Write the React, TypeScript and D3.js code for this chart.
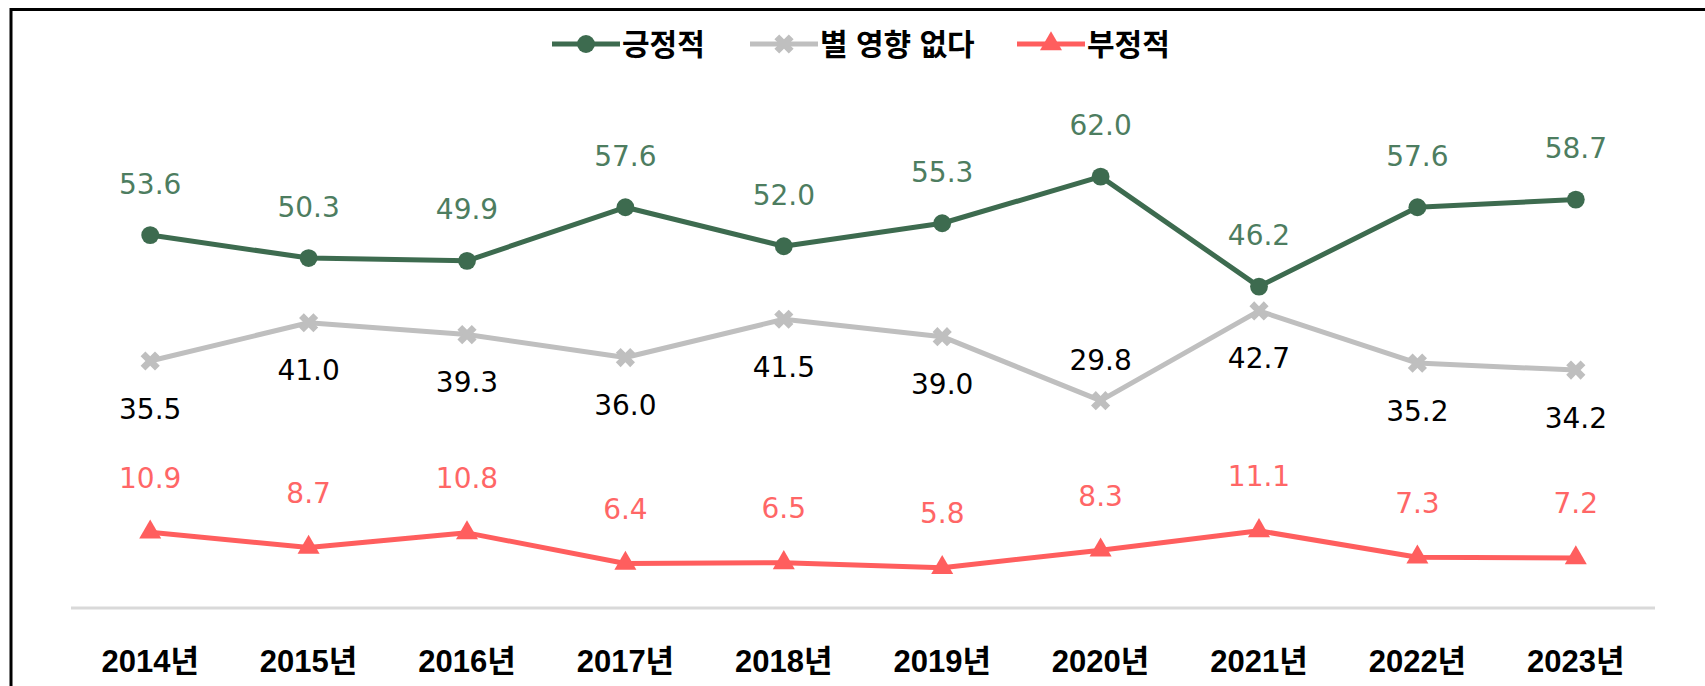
import React from "react";
import * as d3 from "d3";

const years = ["2014년", "2015년", "2016년", "2017년", "2018년", "2019년", "2020년", "2021년", "2022년", "2023년"];
const positive = [53.6, 50.3, 49.9, 57.6, 52.0, 55.3, 62.0, 46.2, 57.6, 58.7];
const noEffect = [35.5, 41.0, 39.3, 36.0, 41.5, 39.0, 29.8, 42.7, 35.2, 34.2];
const negative = [10.9, 8.7, 10.8, 6.4, 6.5, 5.8, 8.3, 11.1, 7.3, 7.2];
const seriesNames = ["긍정적", "별 영향 없다", "부정적"];
// where the label sits for the gray series: "below" except one year
const noEffectLabelPos = ["below", "below", "below", "below", "below", "below", "above", "below", "below", "below"];

const W = 1705;
const H = 686;

const numFont = "'DejaVu Sans', sans-serif";
const krFont = "'Liberation Sans', 'Noto Sans CJK KR', sans-serif";

export default function App() {
  const x = d3.scaleBand<string>().domain(years).range([71, 1655]);
  const y = d3.scaleLinear().domain([0, 70]).range([608, 121]);
  const cx = (i: number) => (x(years[i]) as number) + x.bandwidth() / 2;

  const line = d3.line<number>().x((_, i) => cx(i)).y(d => y(d));

  const series = [
    { name: seriesNames[0], data: positive, color: "#3d6b4f", label: "#4d7d60", sym: d3.symbolCircle, size: 250, rot: 0 },
    { name: seriesNames[1], data: noEffect, color: "#bfbfbf", label: "#000000", sym: d3.symbolCross, size: 230, rot: 45 },
    { name: seriesNames[2], data: negative, color: "#ff5e5e", label: "#ff6666", sym: d3.symbolTriangle, size: 210, rot: 0 },
  ];

  const legendX = [552, 750, 1017];

  return (
    <div style={{ position: "fixed", left: 0, top: 0 }}>
      <svg width={W} height={H} style={{ display: "block", background: "#fff" }}>
        {/* frame */}
        <path d={`M11,${H} L11,9.5 L${W},9.5`} fill="none" stroke="#000" strokeWidth={3} />

        {/* axis line */}
        <line x1={x.range()[0]} x2={x.range()[1]} y1={y(0)} y2={y(0)} stroke="#d9d9d9" strokeWidth={3} />
        {years.map((yr, i) => (
          <text key={yr} x={cx(i)} y={661} textAnchor="middle" dominantBaseline="central"
            fontFamily={krFont} fontWeight="bold" fontSize={31} fill="#000">{yr}</text>
        ))}

        {series.map((s, si) => (
          <g key={s.name}>
            <path d={line(s.data) || ""} fill="none" stroke={s.color} strokeWidth={5} strokeLinejoin="round" />
            {s.data.map((v, i) => (
              <path key={i} d={d3.symbol().type(s.sym).size(s.size)() || ""}
                transform={`translate(${cx(i)},${y(v)}) rotate(${s.rot})`} fill={s.color} />
            ))}
            {s.data.map((v, i) => {
              let dy = -51;
              if (si === 1) dy = noEffectLabelPos[i] === "above" ? -40 : 48;
              if (si === 2) dy = -54;
              return (
                <text key={"l" + i} x={cx(i)} y={y(v) + dy} textAnchor="middle" dominantBaseline="central"
                  fontFamily={numFont} fontSize={28} fill={s.label}>{v.toFixed(1)}</text>
              );
            })}
          </g>
        ))}

        {/* legend */}
        {series.map((s, si) => (
          <g key={"lg" + si} transform={`translate(${legendX[si]},44)`}>
            <line x1={0} x2={68} y1={0} y2={0} stroke={s.color} strokeWidth={5} />
            <path d={d3.symbol().type(s.sym).size(s.size)() || ""} transform={`translate(34,0) rotate(${s.rot})`} fill={s.color} />
            <text x={70} y={0} dominantBaseline="central" fontFamily={krFont} fontWeight="bold" fontSize={30} fill="#000">{s.name}</text>
          </g>
        ))}
      </svg>
    </div>
  );
}
